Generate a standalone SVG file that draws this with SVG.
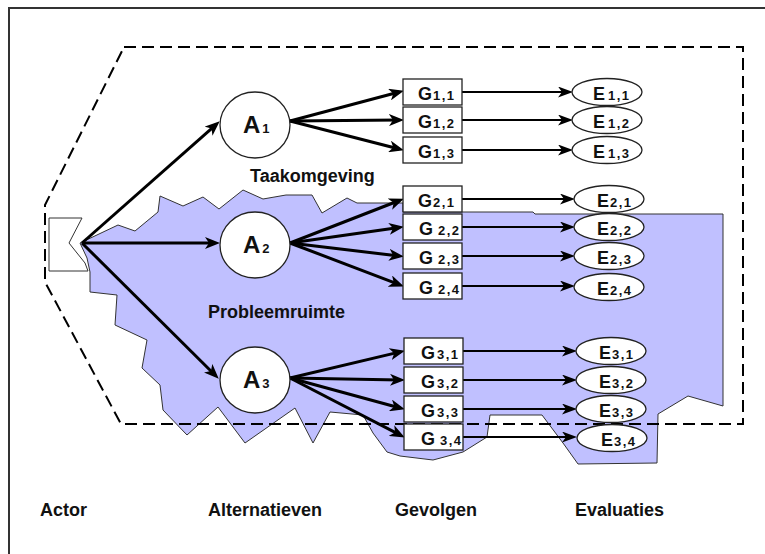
<svg xmlns="http://www.w3.org/2000/svg" width="765" height="554" viewBox="0 0 765 554">
<defs>
<style>
text{font-family:"Liberation Sans",Arial,sans-serif;font-weight:bold;fill:#111}
.lbl{font-size:18px}
.big{font-size:24px}
.nd{font-size:18px}
.sub{font-size:13px;letter-spacing:1.5px}
.circ{fill:#fff;stroke:#222;stroke-width:1.3}
.box{fill:#fff;stroke:#222;stroke-width:1.3}
.ell{fill:#fff;stroke:#222;stroke-width:1.3}
.c3{stroke:#000;stroke-width:3;fill:none;marker-end:url(#ah)}
.c2{stroke:#000;stroke-width:2.2;fill:none;marker-end:url(#ah2)}
</style>
<marker id="ah" viewBox="0 0 15 12" refX="10" refY="6" markerWidth="15" markerHeight="12" markerUnits="userSpaceOnUse" orient="auto">
<path d="M0,0 L15,6 L0,12 L4,6 Z" fill="#000"/>
</marker>
<marker id="ah2" viewBox="0 0 15 11" refX="10" refY="5.5" markerWidth="15" markerHeight="11" markerUnits="userSpaceOnUse" orient="auto">
<path d="M0,0 L15,5.5 L0,11 L4,5.5 Z" fill="#000"/>
</marker>
</defs>
<rect width="765" height="554" fill="#fff"/>
<rect x="9" y="8" width="790" height="590" fill="none" stroke="#333" stroke-width="2"/>

<g id="probleemruimte-region">
<polygon points="80,243 118,225 135,231 158,212 160,196 183,206 203,197 219,209 243,190 263,199 286,195 312,195 322,213 347,198 357,203 383,203 403,203 403,212 533,212 535,214 723,214 723,406 688,396 658,414 657,463 578,464 563,443 542,415 490,415 487,437 463,452 433,460 400,456 387,452 373,433 363,415 330,412 313,443 295,408 245,443 218,407 187,435 163,410 160,385 142,368 147,340 115,325 117,295 90,292 90,272 87,258" fill="#c0c0ff" stroke="#333" stroke-width="1"/>
</g>
<g id="taakomgeving-region">
<polygon points="124,47 743,47 743,424 121,424 45,282 45,205" fill="none" stroke="#000" stroke-width="2" stroke-dasharray="12,6"/>
</g>

<g id="actor">
<polygon points="49,218 82,218 69,243 85,263 88,271 49,271" fill="#fff" stroke="#333" stroke-width="1"/>
</g>

<g id="connectors">
<line class="c3" x1="82" y1="243" x2="216" y2="124.6"/>
<line class="c3" x1="82" y1="243" x2="215" y2="243"/>
<line class="c3" x1="82" y1="243" x2="215.2" y2="375.2"/>
<line class="c3" x1="290" y1="121" x2="399.1" y2="92"/>
<line class="c3" x1="290" y1="121" x2="399" y2="120"/>
<line class="c3" x1="290" y1="121" x2="399.1" y2="149"/>
<line class="c3" x1="290" y1="243" x2="399.3" y2="200.5"/>
<line class="c3" x1="290" y1="243" x2="399" y2="227.5"/>
<line class="c3" x1="290" y1="243" x2="399" y2="256"/>
<line class="c3" x1="290" y1="243" x2="399.3" y2="284.6"/>
<line class="c3" x1="290" y1="378" x2="400.1" y2="351.9"/>
<line class="c3" x1="290" y1="378" x2="400" y2="380"/>
<line class="c3" x1="290" y1="378" x2="400.1" y2="408"/>
<line class="c3" x1="290" y1="378" x2="400.4" y2="435.2"/>
<line class="c2" x1="462" y1="92" x2="568" y2="92"/>
<line class="c2" x1="462" y1="120" x2="568" y2="120"/>
<line class="c2" x1="462" y1="150" x2="568" y2="150"/>
<line class="c2" x1="462" y1="199" x2="570" y2="199"/>
<line class="c2" x1="462" y1="227" x2="570" y2="227"/>
<line class="c2" x1="462" y1="256" x2="570" y2="256"/>
<line class="c2" x1="462" y1="286" x2="570" y2="286"/>
<line class="c2" x1="463" y1="351" x2="572" y2="351"/>
<line class="c2" x1="463" y1="380" x2="572" y2="380"/>
<line class="c2" x1="463" y1="409" x2="572" y2="409"/>
<line class="c2" x1="463" y1="437" x2="572" y2="437"/>
</g>

<g id="A1"><ellipse class="circ" cx="255" cy="125" rx="35" ry="33"/><text class="big" x="243" y="133">A<tspan class="sub" dx="2">1</tspan></text></g>
<g id="A2"><ellipse class="circ" cx="255" cy="245" rx="35" ry="33"/><text class="big" x="243" y="253">A<tspan class="sub" dx="2">2</tspan></text></g>
<g id="A3"><ellipse class="circ" cx="255" cy="380" rx="35" ry="33"/><text class="big" x="243" y="388">A<tspan class="sub" dx="2">3</tspan></text></g>

<g id="G11"><rect class="box" x="403" y="79" width="59" height="26"/><text class="nd" x="418" y="100">G<tspan class="sub" dx="1">1,1</tspan></text></g>
<g id="G12"><rect class="box" x="403" y="107" width="59" height="26"/><text class="nd" x="418" y="128">G<tspan class="sub" dx="1">1,2</tspan></text></g>
<g id="G13"><rect class="box" x="403" y="137" width="59" height="26"/><text class="nd" x="418" y="158">G<tspan class="sub" dx="1">1,3</tspan></text></g>
<g id="G21"><rect class="box" x="403" y="186" width="59" height="26"/><text class="nd" x="418" y="207">G<tspan class="sub" dx="1">2,1</tspan></text></g>
<g id="G22"><rect class="box" x="403" y="214" width="59" height="26"/><text class="nd" x="419" y="235">G <tspan class="sub" dx="0">2,2</tspan></text></g>
<g id="G23"><rect class="box" x="403" y="243" width="59" height="26"/><text class="nd" x="419" y="264">G <tspan class="sub" dx="0">2,3</tspan></text></g>
<g id="G24"><rect class="box" x="403" y="273" width="59" height="26"/><text class="nd" x="419" y="294">G <tspan class="sub" dx="0">2,4</tspan></text></g>
<g id="G31"><rect class="box" x="404" y="338" width="59" height="26"/><text class="nd" x="421" y="359">G<tspan class="sub" dx="2">3,1</tspan></text></g>
<g id="G32"><rect class="box" x="404" y="367" width="59" height="26"/><text class="nd" x="421" y="388">G<tspan class="sub" dx="2">3,2</tspan></text></g>
<g id="G33"><rect class="box" x="404" y="396" width="59" height="26"/><text class="nd" x="421" y="417">G<tspan class="sub" dx="2">3,3</tspan></text></g>
<g id="G34"><rect class="box" x="404" y="424" width="59" height="26"/><text class="nd" x="421" y="445">G <tspan class="sub" dx="0">3,4</tspan></text></g>

<g id="E11"><ellipse class="ell" cx="607" cy="92" rx="35" ry="13.5"/><text class="nd" x="593" y="100">E<tspan class="sub" dx="3">1,1</tspan></text></g>
<g id="E12"><ellipse class="ell" cx="607" cy="120" rx="35" ry="13.5"/><text class="nd" x="593" y="128">E<tspan class="sub" dx="3">1,2</tspan></text></g>
<g id="E13"><ellipse class="ell" cx="607" cy="150" rx="35" ry="13.5"/><text class="nd" x="593" y="158">E<tspan class="sub" dx="3">1,3</tspan></text></g>
<g id="E21"><ellipse class="ell" cx="609" cy="199" rx="35" ry="13.5"/><text class="nd" x="597" y="207">E<tspan class="sub" dx="1">2,1</tspan></text></g>
<g id="E22"><ellipse class="ell" cx="609" cy="227" rx="35" ry="13.5"/><text class="nd" x="597" y="235">E<tspan class="sub" dx="1">2,2</tspan></text></g>
<g id="E23"><ellipse class="ell" cx="609" cy="256" rx="35" ry="13.5"/><text class="nd" x="597" y="264">E<tspan class="sub" dx="1">2,3</tspan></text></g>
<g id="E24"><ellipse class="ell" cx="609" cy="287" rx="35" ry="13.5"/><text class="nd" x="597" y="295">E<tspan class="sub" dx="1">2,4</tspan></text></g>
<g id="E31"><ellipse class="ell" cx="611" cy="351" rx="35" ry="13.5"/><text class="nd" x="599" y="359">E<tspan class="sub" dx="1">3,1</tspan></text></g>
<g id="E32"><ellipse class="ell" cx="611" cy="380" rx="35" ry="13.5"/><text class="nd" x="599" y="388">E<tspan class="sub" dx="1">3,2</tspan></text></g>
<g id="E33"><ellipse class="ell" cx="611" cy="409" rx="35" ry="13.5"/><text class="nd" x="599" y="417">E<tspan class="sub" dx="1">3,3</tspan></text></g>
<g id="E34"><ellipse class="ell" cx="612" cy="438" rx="35" ry="13.5"/><text class="nd" x="601" y="446">E<tspan class="sub" dx="1">3,4</tspan></text></g>

<g id="labels">
<text class="lbl" x="250" y="182">Taakomgeving</text>
<text class="lbl" x="208" y="318">Probleemruimte</text>
<text class="lbl" x="40" y="516">Actor</text>
<text class="lbl" x="208" y="516">Alternatieven</text>
<text class="lbl" x="395" y="516">Gevolgen</text>
<text class="lbl" x="575" y="516">Evaluaties</text>
</g>
</svg>
